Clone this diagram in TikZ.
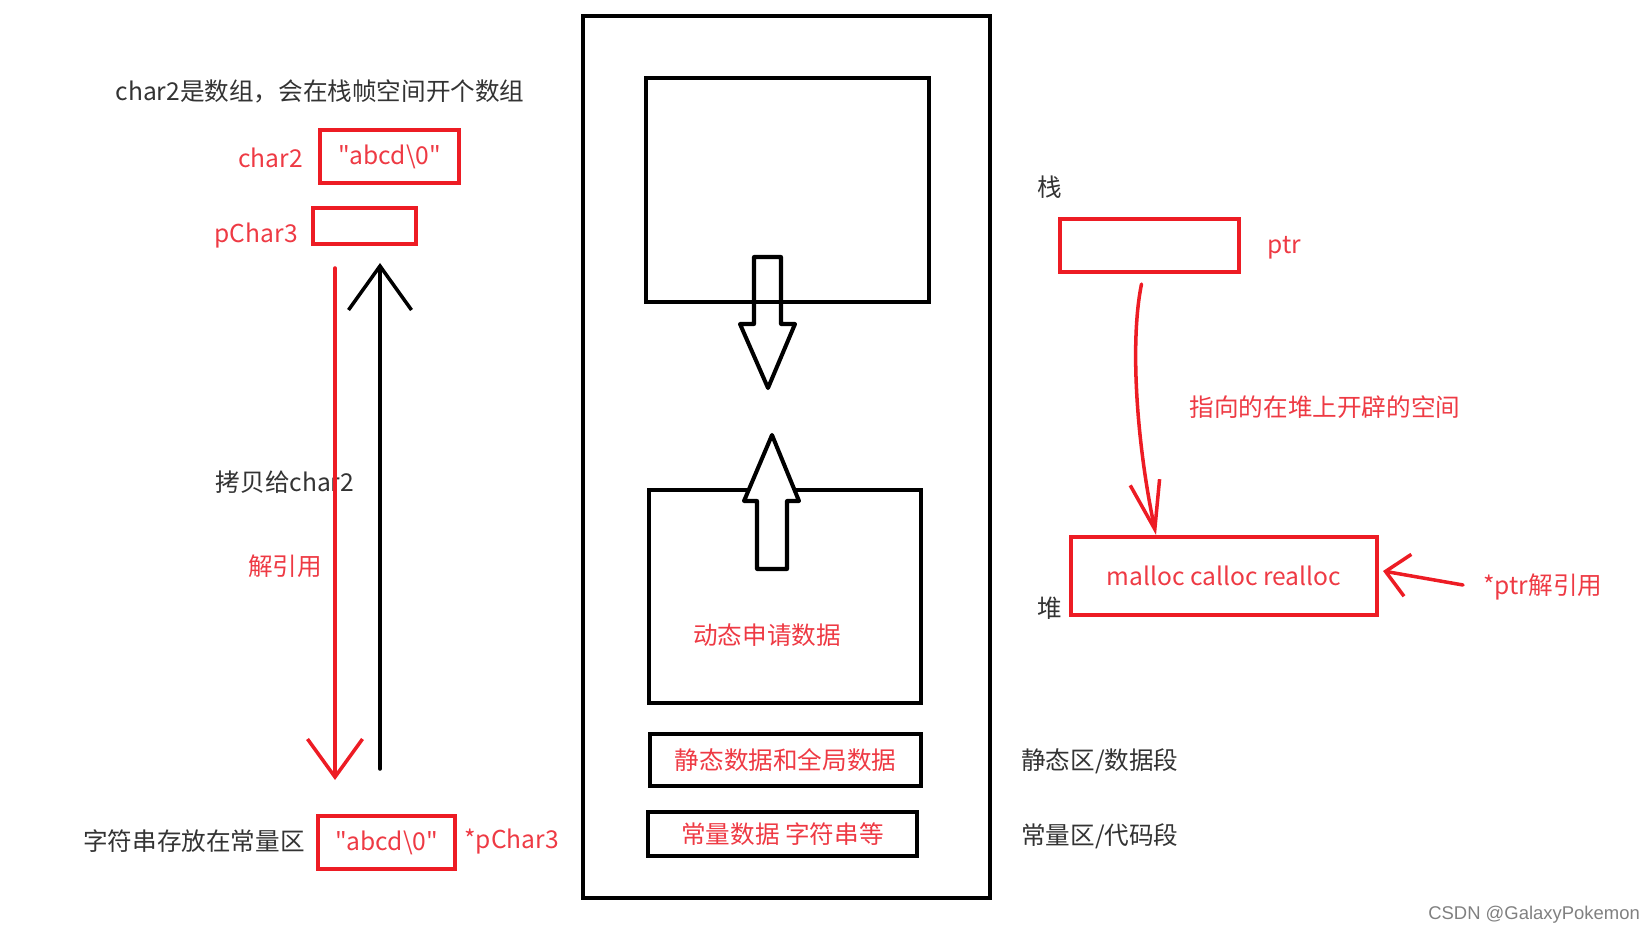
\documentclass[tikz,border=0pt]{standalone}
\usepackage{fontspec}
\newfontfamily\cjkfont{Noto Sans CJK SC}
\newfontfamily\wmfont{Liberation Sans}
\usepackage{tikz}
\usetikzlibrary{arrows.meta}
\usetikzlibrary{calc}
\definecolor{penred}{RGB}{237,28,36}
\definecolor{inkred}{RGB}{238,58,68}
\definecolor{inkgray}{RGB}{51,51,51}

\begin{document}
\begin{tikzpicture}[x=0.02cm,y=-0.02cm,
	font=\cjkfont\fontsize{14pt}{17pt}\selectfont,
	redbox/.style={draw=penred,text=inkred,line width=2.3pt,inner sep=0pt},
	blackbox/.style={draw=black,text=inkred,line width=2.3pt,inner sep=0pt},
	redtxt/.style={text=inkred,inner sep=0pt},
	blacktxt/.style={text=inkgray,inner sep=0pt},
	pen/.style={line width=2pt,line cap=round,line join=round}]
\useasboundingbox (0,0) rectangle (1649,935);
% left: arrays and pointers
\node[blacktxt] (title) at (320,91) {char2是数组，会在栈帧空间开个数组};
\node[redtxt,anchor=east] (char2lbl) at (303,158) {char2};
\node[redbox,minimum width=2.78cm,minimum height=1.06cm] (char2box) at (389.5,156.5) {"abcd\textbackslash0"};
\node[redtxt,anchor=east] (pchar3lbl) at (298,236) {pChar3};
\node[redbox,minimum width=2.06cm,minimum height=0.72cm] (pchar3box) at (364.5,226) {};
\node[blacktxt] (copylbl) at (285,482) {拷贝给char2};
\node[redtxt] (dereflbl) at (285,566) {解引用};
\node[blacktxt,anchor=east] (strlbl) at (305,841) {字符串存放在常量区};
\node[redbox,minimum width=2.74cm,minimum height=1.06cm] (strbox) at (386.5,842.5) {"abcd\textbackslash0"};
\node[redtxt,anchor=west] (pchar3deref) at (464,842) {*pChar3};
\coordinate (redtop) at (335,268);
\coordinate (redend) at (335,780);
\coordinate (blackbot) at (380,769);
\coordinate (blacktip) at (380,263);
\draw[pen,penred,-{Straight Barb[length=0.76cm,width=1.1cm]}] (redtop) -- (redend);
\draw[pen,black,-{Straight Barb[length=0.88cm,width=1.26cm]}] (blackbot) -- (blacktip);
% middle: memory layout
\node[blackbox,minimum width=8.14cm,minimum height=17.64cm] (memory) at (786.5,457) {};
\node[blackbox,minimum width=5.66cm,minimum height=4.48cm] (stackarea) at (787.5,190) {};
\node[blackbox,minimum width=5.44cm,minimum height=4.26cm] (heaparea) at (785,596.5) {};
\node[redtxt] (heaptxt) at (767,635) {动态申请数据};
\node[blackbox,minimum width=5.42cm,minimum height=1.04cm] (staticarea) at (785.5,760) {静态数据和全局数据};
\node[blackbox,minimum width=5.38cm,minimum height=0.88cm] (constarea) at (782.5,834) {常量数据 字符串等};
\draw[line width=2.3pt,line join=round] (754,257) -- (781,257) -- (781,324) -- (795,324) -- (768,388) -- (740,324) -- (754,324) -- cycle;
\draw[line width=2.3pt,line join=round,fill=white] (757,569) -- (787,569) -- (787,501) -- (799,501) -- (772,435) -- (744,501) -- (757,501) -- cycle;
% right: stack and heap
\node[blacktxt] (stacklbl) at (1050,187) {栈};
\node[redbox,minimum width=3.58cm,minimum height=1.06cm] (ptrbox) at (1149.5,245.5) {};
\node[redtxt,anchor=west] (ptrlbl) at (1267,248) {ptr};
\node[redtxt] (pointlbl) at (1325,407) {指向的在堆上开辟的空间};
\node[blacktxt] (heaplbl) at (1050,608) {堆};
\node[redbox,minimum width=6.12cm,minimum height=1.56cm] (mallocbox) at (1224,576) {malloc calloc realloc};
\node[redtxt,anchor=west] (derefptr) at (1483,587) {*ptr解引用};
\node[blacktxt,right,font=\wmfont\fontsize{10.5pt}{12pt}\selectfont,text=gray] (mark) at (1428,915) {CSDN @GalaxyPokemon};
\node[blacktxt,anchor=west] (staticlbl) at (1021,761) {静态区/数据段};
\node[blacktxt,anchor=west] (constlbl) at (1021,836) {常量区/代码段};
\draw[pen,penred,-{Straight Barb[length=0.96cm,width=0.6cm]}] ($(ptrbox.south)+(-8,10)$) .. controls (1130,340) and (1136,440) .. ($(mallocbox.north west)+(87,0)$);
\draw[pen,penred,-{Straight Barb[length=0.45cm,width=0.85cm]}] ($(derefptr.west)+(-20,-2)$) -- ($(mallocbox.east)+(4,-5)$);
\end{tikzpicture}
\end{document}
